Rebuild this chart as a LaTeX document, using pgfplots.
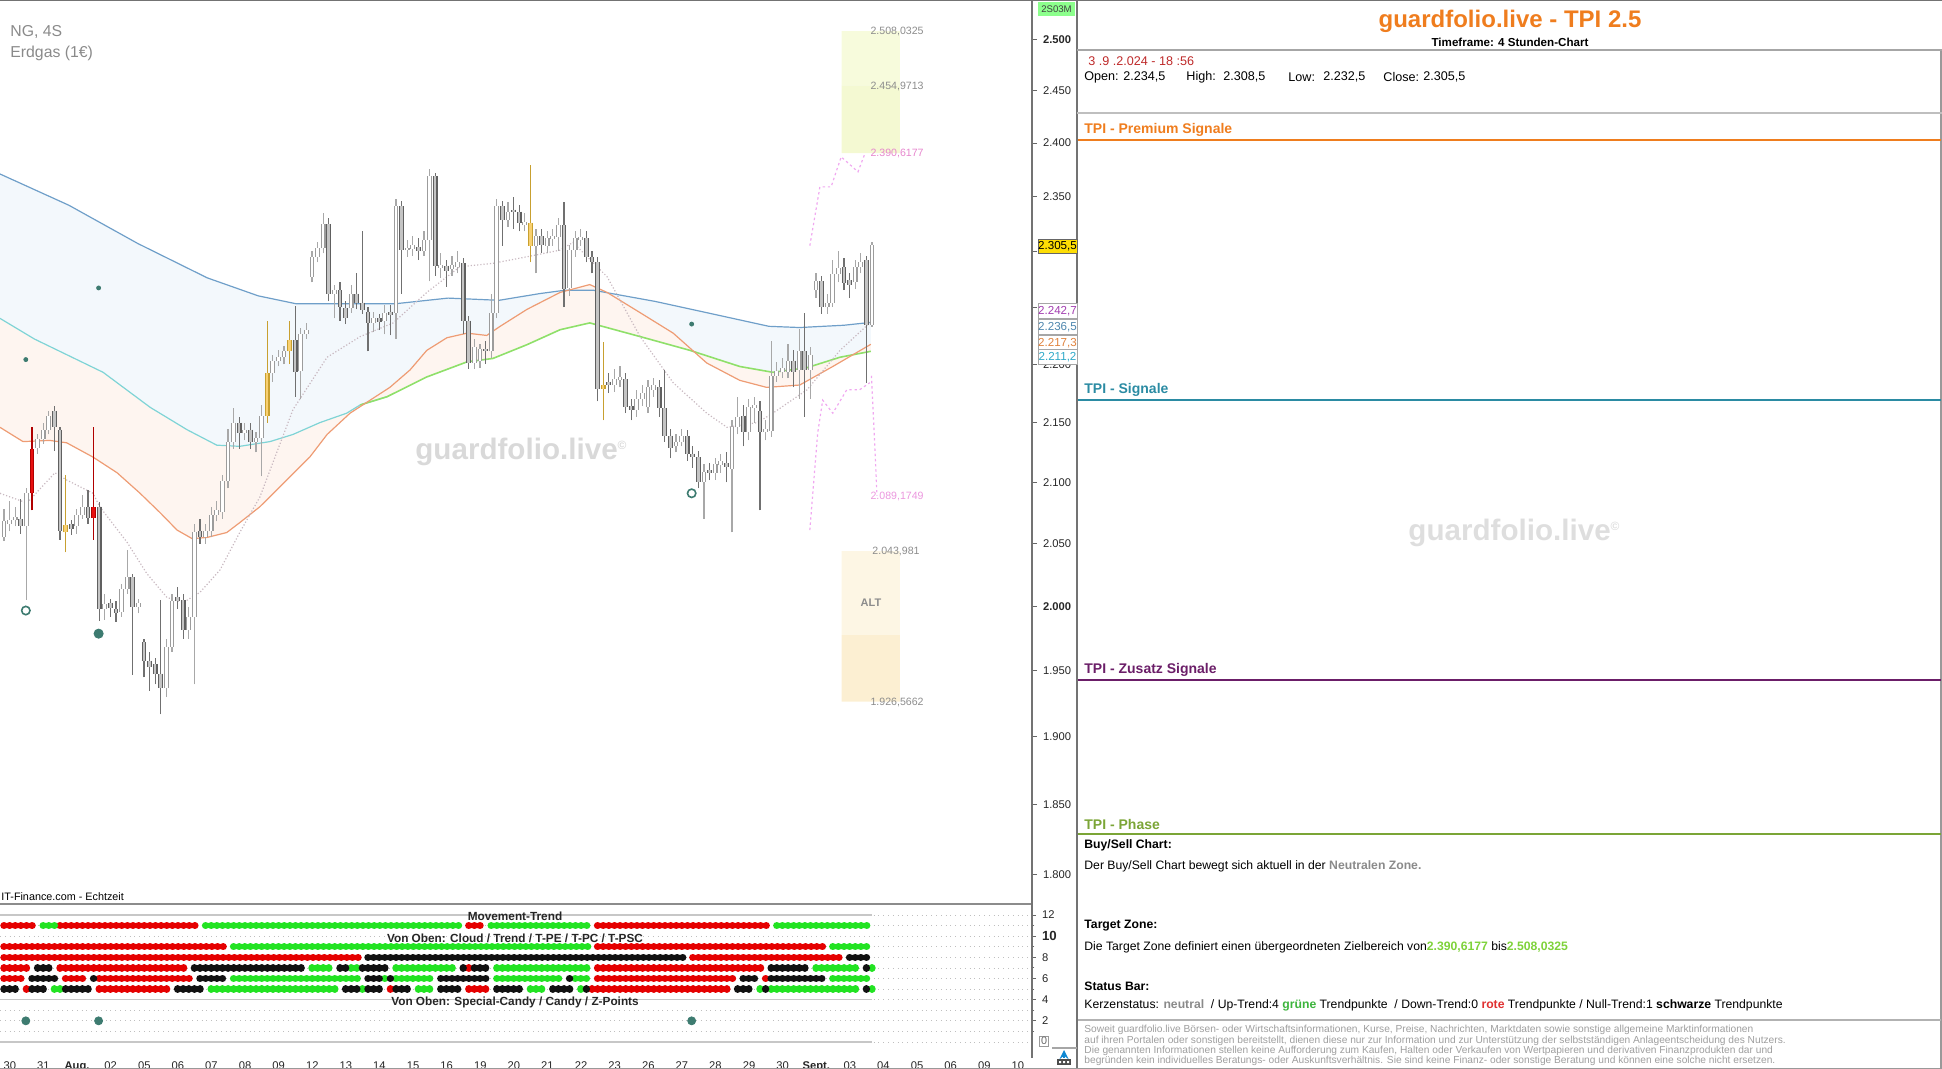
\documentclass[border=0pt]{standalone}
\usepackage{fontspec}
\setmainfont{Liberation Sans}
\usepackage{pgfplots}
\pgfplotsset{compat=1.18}
\usepackage{pgfplotstable}
\usepgfplotslibrary{fillbetween}

\definecolor{tpiorange}{HTML}{EF7D1E}
\definecolor{tpiteal}{HTML}{2B8BA3}
\definecolor{tpipurple}{HTML}{6B1E68}
\definecolor{tpigreen}{HTML}{7BA536}
\definecolor{zteal}{HTML}{3D7B70}
\definecolor{dotred}{HTML}{E50000}
\definecolor{dotgreen}{HTML}{22E322}
\definecolor{dotblack}{HTML}{111111}
\definecolor{cloudA}{HTML}{6F9FC9}
\definecolor{cloudB}{HTML}{7FD4D6}
\definecolor{cloudG}{HTML}{8FE06A}
\definecolor{cloudC}{HTML}{EE9C74}
\definecolor{fillAB}{HTML}{F3F8FC}
\definecolor{fillBC}{HTML}{FEF5F0}
\definecolor{wickW}{HTML}{A8A8A8}
\definecolor{bordW}{HTML}{9C9C9C}
\definecolor{wickG}{HTML}{707070}
\definecolor{bordG}{HTML}{606060}
\definecolor{fillG}{HTML}{C4C4C4}
\definecolor{wickY}{HTML}{C8A030}
\definecolor{fillY}{HTML}{F8D070}
\definecolor{wickR}{HTML}{B00000}
\definecolor{fillR}{HTML}{E81010}
\definecolor{pinkf}{HTML}{F0A8F0}
\definecolor{dotgray}{HTML}{C8B8C0}
\definecolor{zoneG}{HTML}{F7FBDC}
\definecolor{zoneG2}{HTML}{F4F9D2}
\definecolor{zoneA}{HTML}{FDF6E4}
\definecolor{zoneA2}{HTML}{FCEFD2}
\definecolor{txtgray}{HTML}{8A8A8A}
\definecolor{numgreen}{HTML}{7ED23A}
\definecolor{kgreen}{HTML}{3CB43C}
\definecolor{kred}{HTML}{E03030}

% candles: each one is two rows (n, low, open) and (n, high, close), then a break
% rising candles
\pgfplotstableread[row sep=\\]{
n a b\\
1 2.052 2.055\\ 1 2.078 2.068\\ nan nan nan\\
2 2.060 2.066\\ 2 2.085 2.069\\ nan nan nan\\
3 2.064 2.069\\ 3 2.080 2.072\\ nan nan nan\\
5 2.005 2.064\\ 5 2.095 2.091\\ nan nan nan\\
7 2.124 2.129\\ 7 2.140 2.136\\ nan nan nan\\
8 2.132 2.136\\ 8 2.150 2.144\\ nan nan nan\\
9 2.140 2.144\\ 9 2.160 2.156\\ nan nan nan\\
14 2.058 2.064\\ 14 2.078 2.073\\ nan nan nan\\
15 2.070 2.073\\ 15 2.090 2.080\\ nan nan nan\\
19 1.990 1.998\\ 19 2.010 2.002\\ nan nan nan\\
22 1.992 1.996\\ 22 2.018 2.014\\ nan nan nan\\
23 2.010 2.014\\ 23 2.045 2.023\\ nan nan nan\\
25 1.995 2.000\\ 25 2.006 2.003\\ nan nan nan\\
30 1.930 1.937\\ 30 1.975 1.969\\ nan nan nan\\
31 1.965 1.969\\ 31 2.010 2.004\\ nan nan nan\\
34 1.975 1.982\\ 34 2.000 1.992\\ nan nan nan\\
35 1.940 1.992\\ 35 2.066 2.059\\ nan nan nan\\
37 2.050 2.055\\ 37 2.066 2.060\\ nan nan nan\\
38 2.055 2.060\\ 38 2.080 2.073\\ nan nan nan\\
39 2.068 2.073\\ 39 2.085 2.077\\ nan nan nan\\
40 2.070 2.076\\ 40 2.106 2.101\\ nan nan nan\\
41 2.095 2.101\\ 41 2.145 2.134\\ nan nan nan\\
42 2.128 2.134\\ 42 2.162 2.150\\ nan nan nan\\
44 2.135 2.141\\ 44 2.150 2.144\\ nan nan nan\\
46 2.125 2.134\\ 46 2.142 2.137\\ nan nan nan\\
47 2.105 2.137\\ 47 2.165 2.156\\ nan nan nan\\
49 2.185 2.192\\ 49 2.208 2.203\\ nan nan nan\\
50 2.198 2.203\\ 50 2.212 2.206\\ nan nan nan\\
51 2.200 2.206\\ 51 2.216 2.211\\ nan nan nan\\
54 2.170 2.194\\ 54 2.232 2.226\\ nan nan nan\\
55 2.222 2.226\\ 55 2.236 2.230\\ nan nan nan\\
56 2.272 2.277\\ 56 2.300 2.295\\ nan nan nan\\
57 2.290 2.295\\ 57 2.308 2.303\\ nan nan nan\\
58 2.298 2.303\\ 58 2.335 2.325\\ nan nan nan\\
60 2.240 2.262\\ 60 2.270 2.265\\ nan nan nan\\
63 2.245 2.249\\ 63 2.270 2.262\\ nan nan nan\\
67 2.228 2.236\\ 67 2.246 2.240\\ nan nan nan\\
69 2.226 2.238\\ 69 2.252 2.245\\ nan nan nan\\
71 2.222 2.245\\ 71 2.348 2.341\\ nan nan nan\\
73 2.295 2.301\\ 73 2.310 2.303\\ nan nan nan\\
74 2.296 2.302\\ 74 2.314 2.306\\ nan nan nan\\
76 2.296 2.300\\ 76 2.318 2.310\\ nan nan nan\\
77 2.273 2.310\\ 77 2.376 2.369\\ nan nan nan\\
79 2.276 2.285\\ 79 2.298 2.288\\ nan nan nan\\
81 2.278 2.284\\ 81 2.296 2.288\\ nan nan nan\\
82 2.280 2.286\\ 82 2.300 2.290\\ nan nan nan\\
85 2.196 2.201\\ 85 2.222 2.215\\ nan nan nan\\
86 2.197 2.203\\ 86 2.218 2.213\\ nan nan nan\\
88 2.205 2.211\\ 88 2.262 2.245\\ nan nan nan\\
89 2.240 2.245\\ 89 2.348 2.341\\ nan nan nan\\
91 2.322 2.328\\ 91 2.345 2.336\\ nan nan nan\\
94 2.318 2.324\\ 94 2.335 2.327\\ nan nan nan\\
96 2.280 2.305\\ 96 2.320 2.314\\ nan nan nan\\
98 2.298 2.305\\ 98 2.318 2.312\\ nan nan nan\\
99 2.305 2.311\\ 99 2.320 2.314\\ nan nan nan\\
100 2.300 2.313\\ 100 2.330 2.324\\ nan nan nan\\
102 2.260 2.267\\ 102 2.306 2.301\\ nan nan nan\\
103 2.295 2.301\\ 103 2.318 2.312\\ nan nan nan\\
104 2.305 2.310\\ 104 2.320 2.313\\ nan nan nan\\
110 2.176 2.182\\ 110 2.196 2.187\\ nan nan nan\\
111 2.180 2.186\\ 111 2.198 2.189\\ nan nan nan\\
114 2.155 2.161\\ 114 2.178 2.170\\ nan nan nan\\
115 2.164 2.170\\ 115 2.182 2.175\\ nan nan nan\\
116 2.158 2.163\\ 116 2.186 2.180\\ nan nan nan\\
117 2.172 2.178\\ 117 2.188 2.182\\ nan nan nan\\
121 2.125 2.130\\ 121 2.140 2.134\\ nan nan nan\\
122 2.130 2.134\\ 122 2.145 2.139\\ nan nan nan\\
126 2.070 2.100\\ 126 2.115 2.109\\ nan nan nan\\
128 2.102 2.108\\ 128 2.120 2.115\\ nan nan nan\\
129 2.108 2.114\\ 129 2.124 2.118\\ nan nan nan\\
131 2.059 2.111\\ 131 2.152 2.146\\ nan nan nan\\
132 2.140 2.146\\ 132 2.172 2.155\\ nan nan nan\\
134 2.135 2.142\\ 134 2.170 2.163\\ nan nan nan\\
135 2.150 2.162\\ 135 2.172 2.165\\ nan nan nan\\
137 2.135 2.142\\ 137 2.152 2.145\\ nan nan nan\\
138 2.138 2.143\\ 138 2.220 2.190\\ nan nan nan\\
139 2.185 2.190\\ 139 2.202 2.194\\ nan nan nan\\
140 2.188 2.193\\ 140 2.205 2.197\\ nan nan nan\\
141 2.188 2.193\\ 141 2.218 2.203\\ nan nan nan\\
143 2.170 2.195\\ 143 2.231 2.211\\ nan nan nan\\
145 2.170 2.195\\ 145 2.215 2.208\\ nan nan nan\\
146 2.258 2.265\\ 146 2.280 2.273\\ nan nan nan\\
148 2.244 2.250\\ 148 2.262 2.254\\ nan nan nan\\
149 2.250 2.254\\ 149 2.292 2.279\\ nan nan nan\\
150 2.272 2.279\\ 150 2.300 2.285\\ nan nan nan\\
153 2.266 2.272\\ 153 2.292 2.286\\ nan nan nan\\
154 2.280 2.286\\ 154 2.298 2.290\\ nan nan nan\\
156 2.2325 2.2345\\ 156 2.3085 2.3055\\ nan nan nan\\
}\upc
% falling candles
\pgfplotstableread[row sep=\\]{
n a b\\
4 2.058 2.070\\ 4 2.086 2.064\\ nan nan nan\\
10 2.126 2.160\\ 10 2.164 2.146\\ nan nan nan\\
11 2.053 2.144\\ 11 2.146 2.060\\ nan nan nan\\
13 2.057 2.066\\ 13 2.069 2.062\\ nan nan nan\\
16 2.066 2.080\\ 16 2.094 2.071\\ nan nan nan\\
18 1.989 2.080\\ 18 2.084 1.998\\ nan nan nan\\
20 1.992 2.003\\ 20 2.006 1.999\\ nan nan nan\\
21 1.988 1.998\\ 21 2.004 1.995\\ nan nan nan\\
24 1.947 2.023\\ 24 2.026 2.000\\ nan nan nan\\
26 1.945 1.972\\ 26 1.975 1.958\\ nan nan nan\\
27 1.935 1.958\\ 27 1.965 1.953\\ nan nan nan\\
28 1.940 1.955\\ 28 1.960 1.948\\ nan nan nan\\
29 1.917 1.948\\ 29 2.005 1.937\\ nan nan nan\\
32 1.998 2.007\\ 32 2.015 2.004\\ nan nan nan\\
33 1.975 2.005\\ 33 2.010 1.982\\ nan nan nan\\
36 2.050 2.060\\ 36 2.070 2.055\\ nan nan nan\\
43 2.128 2.150\\ 43 2.155 2.141\\ nan nan nan\\
45 2.128 2.144\\ 45 2.150 2.134\\ nan nan nan\\
53 2.172 2.221\\ 53 2.251 2.193\\ nan nan nan\\
59 2.255 2.325\\ 59 2.330 2.262\\ nan nan nan\\
61 2.238 2.265\\ 61 2.272 2.250\\ nan nan nan\\
62 2.235 2.249\\ 62 2.255 2.240\\ nan nan nan\\
64 2.248 2.262\\ 64 2.280 2.254\\ nan nan nan\\
65 2.244 2.254\\ 65 2.318 2.247\\ nan nan nan\\
66 2.211 2.246\\ 66 2.250 2.236\\ nan nan nan\\
68 2.230 2.240\\ 68 2.244 2.237\\ nan nan nan\\
70 2.225 2.246\\ 70 2.252 2.243\\ nan nan nan\\
72 2.262 2.341\\ 72 2.346 2.301\\ nan nan nan\\
75 2.292 2.304\\ 75 2.312 2.300\\ nan nan nan\\
78 2.278 2.369\\ 78 2.372 2.287\\ nan nan nan\\
80 2.268 2.287\\ 80 2.292 2.282\\ nan nan nan\\
83 2.226 2.289\\ 83 2.294 2.238\\ nan nan nan\\
84 2.196 2.238\\ 84 2.242 2.201\\ nan nan nan\\
87 2.200 2.213\\ 87 2.220 2.211\\ nan nan nan\\
90 2.305 2.341\\ 90 2.346 2.328\\ nan nan nan\\
92 2.320 2.338\\ 92 2.350 2.336\\ nan nan nan\\
93 2.318 2.336\\ 93 2.342 2.326\\ nan nan nan\\
97 2.298 2.314\\ 97 2.320 2.306\\ nan nan nan\\
101 2.250 2.324\\ 101 2.345 2.266\\ nan nan nan\\
105 2.290 2.312\\ 105 2.318 2.295\\ nan nan nan\\
106 2.280 2.295\\ 106 2.300 2.290\\ nan nan nan\\
107 2.168 2.290\\ 107 2.295 2.179\\ nan nan nan\\
109 2.175 2.185\\ 109 2.192 2.182\\ nan nan nan\\
112 2.158 2.187\\ 112 2.192 2.163\\ nan nan nan\\
113 2.152 2.164\\ 113 2.170 2.161\\ nan nan nan\\
118 2.155 2.180\\ 118 2.186 2.162\\ nan nan nan\\
119 2.134 2.162\\ 119 2.195 2.139\\ nan nan nan\\
120 2.120 2.139\\ 120 2.145 2.129\\ nan nan nan\\
123 2.118 2.139\\ 123 2.144 2.124\\ nan nan nan\\
124 2.112 2.124\\ 124 2.130 2.121\\ nan nan nan\\
125 2.095 2.121\\ 125 2.126 2.100\\ nan nan nan\\
127 2.102 2.110\\ 127 2.116 2.108\\ nan nan nan\\
130 2.100 2.116\\ 130 2.125 2.113\\ nan nan nan\\
133 2.130 2.156\\ 133 2.165 2.142\\ nan nan nan\\
136 2.077 2.160\\ 136 2.168 2.142\\ nan nan nan\\
142 2.180 2.203\\ 142 2.212 2.193\\ nan nan nan\\
144 2.155 2.211\\ 144 2.245 2.195\\ nan nan nan\\
147 2.244 2.273\\ 147 2.278 2.250\\ nan nan nan\\
151 2.265 2.286\\ 151 2.294 2.271\\ nan nan nan\\
152 2.258 2.274\\ 152 2.280 2.270\\ nan nan nan\\
155 2.184 2.292\\ 155 2.296 2.234\\ nan nan nan\\
}\downc
% special candles (yellow)
\pgfplotstableread[row sep=\\]{
n a b\\
12 2.043 2.059\\ 12 2.106 2.065\\ nan nan nan\\
48 2.150 2.156\\ 48 2.238 2.192\\ nan nan nan\\
52 2.200 2.211\\ 52 2.238 2.221\\ nan nan nan\\
95 2.290 2.326\\ 95 2.379 2.305\\ nan nan nan\\
108 2.152 2.179\\ 108 2.219 2.182\\ nan nan nan\\
}\yelc
% special candles (red)
\pgfplotstableread[row sep=\\]{
n a b\\
6 2.077 2.091\\ 6 2.146 2.128\\ nan nan nan\\
17 2.053 2.071\\ 17 2.146 2.080\\ nan nan nan\\
}\redc

% status rows: first and last candle of each run, row number
\pgfplotstableread[row sep=\\]{
x y\\
1 11\\ 7.01 11\\ nan nan\\
11 11\\ 36.01 11\\ nan nan\\
84 11\\ 87.01 11\\ nan nan\\
107 11\\ 138.01 11\\ nan nan\\
1 9\\ 41.01 9\\ nan nan\\
107 9\\ 148.01 9\\ nan nan\\
1 8\\ 65.01 8\\ nan nan\\
124 8\\ 151.01 8\\ nan nan\\
1 7\\ 6.01 7\\ nan nan\\
11 7\\ 34.01 7\\ nan nan\\
84 7\\ 84.01 7\\ nan nan\\
107 7\\ 137.01 7\\ nan nan\\
1 6\\ 5.01 6\\ nan nan\\
12 6\\ 16.01 6\\ nan nan\\
18 6\\ 35.01 6\\ nan nan\\
107 6\\ 132.01 6\\ nan nan\\
137 6\\ 137.01 6\\ nan nan\\
5 5\\ 5.01 5\\ nan nan\\
18 5\\ 31.01 5\\ nan nan\\
70 5\\ 70.01 5\\ nan nan\\
84 5\\ 88.01 5\\ nan nan\\
106 5\\ 131.01 5\\ nan nan\\
}\rowsred
\pgfplotstableread[row sep=\\]{
x y\\
8 11\\ 10.01 11\\ nan nan\\
37 11\\ 83.01 11\\ nan nan\\
88 11\\ 106.01 11\\ nan nan\\
139 11\\ 156.01 11\\ nan nan\\
42 9\\ 106.01 9\\ nan nan\\
149 9\\ 156.01 9\\ nan nan\\
56 7\\ 60.01 7\\ nan nan\\
63 7\\ 64.01 7\\ nan nan\\
71 7\\ 82.01 7\\ nan nan\\
89 7\\ 106.01 7\\ nan nan\\
146 7\\ 154.01 7\\ nan nan\\
156 7\\ 156.01 7\\ nan nan\\
42 6\\ 65.01 6\\ nan nan\\
69 6\\ 69.01 6\\ nan nan\\
71 6\\ 78.01 6\\ nan nan\\
89 6\\ 101.01 6\\ nan nan\\
103 6\\ 106.01 6\\ nan nan\\
149 6\\ 156.01 6\\ nan nan\\
10 5\\ 11.01 5\\ nan nan\\
38 5\\ 61.01 5\\ nan nan\\
65 5\\ 65.01 5\\ nan nan\\
75 5\\ 78.01 5\\ nan nan\\
95 5\\ 98.01 5\\ nan nan\\
104 5\\ 104.01 5\\ nan nan\\
136 5\\ 136.01 5\\ nan nan\\
138 5\\ 154.01 5\\ nan nan\\
156 5\\ 156.01 5\\ nan nan\\
}\rowsgreen
\pgfplotstableread[row sep=\\]{
x y\\
66 8\\ 123.01 8\\ nan nan\\
152 8\\ 156.01 8\\ nan nan\\
7 7\\ 10.01 7\\ nan nan\\
35 7\\ 55.01 7\\ nan nan\\
61 7\\ 62.01 7\\ nan nan\\
65 7\\ 70.01 7\\ nan nan\\
83 7\\ 83.01 7\\ nan nan\\
85 7\\ 88.01 7\\ nan nan\\
138 7\\ 145.01 7\\ nan nan\\
155 7\\ 155.01 7\\ nan nan\\
6 6\\ 11.01 6\\ nan nan\\
17 6\\ 17.01 6\\ nan nan\\
36 6\\ 41.01 6\\ nan nan\\
66 6\\ 68.01 6\\ nan nan\\
70 6\\ 70.01 6\\ nan nan\\
79 6\\ 88.01 6\\ nan nan\\
102 6\\ 102.01 6\\ nan nan\\
133 6\\ 136.01 6\\ nan nan\\
138 6\\ 148.01 6\\ nan nan\\
1 5\\ 4.01 5\\ nan nan\\
6 5\\ 9.01 5\\ nan nan\\
12 5\\ 17.01 5\\ nan nan\\
32 5\\ 37.01 5\\ nan nan\\
62 5\\ 64.01 5\\ nan nan\\
66 5\\ 69.01 5\\ nan nan\\
71 5\\ 74.01 5\\ nan nan\\
79 5\\ 83.01 5\\ nan nan\\
89 5\\ 94.01 5\\ nan nan\\
99 5\\ 103.01 5\\ nan nan\\
105 5\\ 105.01 5\\ nan nan\\
132 5\\ 135.01 5\\ nan nan\\
137 5\\ 137.01 5\\ nan nan\\
155 5\\ 155.01 5\\ nan nan\\
}\rowsblack

\pgfplotsset{
  dotrow/.style={#1, line width=3.7pt, line cap=round, forget plot,
    unbounded coords=jump, dash pattern=on 0.01pt off 2.8pt},
}
% wick, border and fill of one candle table
\newcommand\candleset[4]{%
  \addplot[#2, line width=0.55pt, unbounded coords=jump, forget plot] table[x=n, y=a] {#1};
  \addplot[#3, line width=2.4pt, unbounded coords=jump, forget plot] table[x=n, y=b] {#1};
  \addplot[#4, line width=1.3pt, unbounded coords=jump, forget plot] table[x=n, y=b] {#1};}
\newcommand\fs[1]{\fontsize{#1}{#1}\selectfont}

\begin{document}
\begin{tikzpicture}[x=0.5pt, y=-0.5pt, lbl/.style={anchor=west, inner sep=0pt}]

% watermarks
\node[lbl, text=black!15, font=\fs{14.8}\bfseries] at (415,452) {guardfolio.live\textsuperscript{\fs{6}©}};
\node[lbl, text=black!13, font=\fs{14.8}\bfseries] at (1408,533) {guardfolio.live\textsuperscript{\fs{6}©}};

% price panel
\begin{axis}[at={(0pt,-452pt)}, anchor=south west, scale only axis,
  width=516pt, height=452pt,
  xmin=0.29, xmax=184.5757,
  ymode=log, ymin=1.779, ymax=2.539,
  axis x line=none, axis y line*=right,
  y axis line style={draw=black!55, line width=0.7pt},
  ytick={1.8,1.85,1.9,1.95,2.0,2.05,2.1,2.15,2.2,2.25,2.3,2.35,2.4,2.45,2.5},
  yticklabels={1.800,1.850,1.900,1.950,\textbf{2.000},2.050,2.100,2.150,2.200,{},{},2.350,2.400,2.450,\textbf{2.500}},
  yminorticks=false, tick align=outside, major tick length=2.5pt,
  ytick style={draw=black!60, line width=0.5pt},
  yticklabel style={font=\fs{5.6}, text=black!85, xshift=-0.5pt},
  clip=true]

% cloud boundaries
\addplot[name path=A, cloudA, line width=0.6pt] coordinates {
  (0.29,2.371) (12.6,2.342) (24.9,2.307) (37.3,2.276) (46.4,2.260) (53.1,2.253)
  (61.7,2.253) (71.0,2.253) (80.3,2.258) (89.4,2.256) (96.7,2.262) (101.2,2.265)
  (106.2,2.265) (117.3,2.255) (126.5,2.245) (137.6,2.233) (143.1,2.232) (151.0,2.234) (155.8,2.2365)};
\addplot[name path=B, draw=none] coordinates {
  (0.29,2.240) (6.4,2.222) (18.7,2.193) (27.1,2.163) (33.7,2.144) (39.0,2.131)
  (43.1,2.130) (48.5,2.134) (52.6,2.140) (57.4,2.150) (62.2,2.158) (64.6,2.165)
  (69.4,2.172) (76.5,2.189) (83.7,2.202) (88.3,2.205) (94.4,2.217) (100.3,2.230)
  (105.6,2.236) (114.6,2.224) (123.5,2.212) (132.4,2.198) (138.3,2.193) (144.4,2.197)
  (150.3,2.206) (155.8,2.2112)};
\addplot[name path=C, draw=none] coordinates {
  (0.29,2.146) (4.4,2.134) (9.2,2.135) (12.2,2.133) (16.9,2.121) (21.2,2.108)
  (25.3,2.091) (28.9,2.075) (31.9,2.061) (34.6,2.054) (37.3,2.055) (40.8,2.059)
  (43.1,2.067) (46.7,2.080) (51.5,2.102) (55.6,2.121) (58.7,2.140) (62.8,2.158)
  (69.9,2.180) (73.5,2.195) (76.5,2.212) (80.1,2.223) (83.7,2.227) (87.2,2.225)
  (89.6,2.233) (94.4,2.248) (100.3,2.263) (105.6,2.270) (108.7,2.263) (114.6,2.245)
  (120.5,2.227) (126.5,2.201) (132.4,2.186) (137.2,2.180) (143.1,2.182) (149.0,2.198) (155.8,2.2173)};
\addplot[fillAB] fill between[of=A and B];
\addplot[fillBC] fill between[of=B and C];
\addplot[cloudB, line width=0.6pt] coordinates {
  (0.29,2.240) (6.4,2.222) (18.7,2.193) (27.1,2.163) (33.7,2.144) (39.0,2.131)
  (43.1,2.130) (48.5,2.134) (52.6,2.140) (57.4,2.150) (62.2,2.158) (64.6,2.165) (69.4,2.172)};
\addplot[cloudG, line width=0.8pt] coordinates {
  (64.6,2.165) (69.4,2.172) (76.5,2.189) (83.7,2.202) (88.3,2.205) (94.4,2.217) (100.3,2.230)
  (105.6,2.236) (114.6,2.224) (123.5,2.212) (132.4,2.198) (138.3,2.193) (144.4,2.197)
  (150.3,2.206) (155.8,2.2112)};
\addplot[cloudC, line width=0.6pt] coordinates {
  (0.29,2.146) (4.4,2.134) (9.2,2.135) (12.2,2.133) (16.9,2.121) (21.2,2.108)
  (25.3,2.091) (28.9,2.075) (31.9,2.061) (34.6,2.054) (37.3,2.055) (40.8,2.059)
  (43.1,2.067) (46.7,2.080) (51.5,2.102) (55.6,2.121) (58.7,2.140) (62.8,2.158)
  (69.9,2.180) (73.5,2.195) (76.5,2.212) (80.1,2.223) (83.7,2.227) (87.2,2.225)
  (89.6,2.233) (94.4,2.248) (100.3,2.263) (105.6,2.270) (108.7,2.263) (114.6,2.245)
  (120.5,2.227) (126.5,2.201) (132.4,2.186) (137.2,2.180) (143.1,2.182) (149.0,2.198) (155.8,2.2173)};

% dotted average
\addplot[dotgray, line width=0.6pt, densely dotted] coordinates {
  (0.29,2.091) (5.1,2.083) (10.1,2.108) (12.2,2.102) (16.9,2.091) (18.1,2.080)
  (23.0,2.051) (26.5,2.026) (30.1,2.007) (33.0,2.003) (36.0,2.011) (39.6,2.029)
  (43.1,2.059) (46.7,2.088) (52.6,2.161) (58.7,2.206) (64.6,2.224) (70.5,2.236)
  (76.5,2.263) (82.4,2.286) (88.3,2.289) (94.4,2.295) (100.3,2.301) (102.6,2.308)
  (108.7,2.277) (114.6,2.224) (120.5,2.184) (126.5,2.158) (130.1,2.146) (135.5,2.150)
  (138.3,2.158) (144.4,2.178) (150.3,2.212) (155.6,2.236)};

% target zones
\addplot[fill=zoneG, draw=none] coordinates {(150.6,2.4549713) (161,2.4549713) (161,2.5080325) (150.6,2.5080325) (150.6,2.4549713)};
\addplot[fill=zoneG2, draw=none] coordinates {(150.6,2.3906177) (161,2.3906177) (161,2.4549713) (150.6,2.4549713) (150.6,2.3906177)};
\addplot[fill=zoneA, draw=none] coordinates {(150.6,1.978) (161,1.978) (161,2.043981) (150.6,2.043981) (150.6,1.978)};
\addplot[fill=zoneA2, draw=none] coordinates {(150.6,1.9265662) (161,1.9265662) (161,1.978) (150.6,1.978) (150.6,1.9265662)};

% forecast paths
\addplot[pinkf, line width=0.6pt, dash pattern=on 1.2pt off 1.4pt] coordinates {
  (144.9,2.305) (146.7,2.359) (148.7,2.359) (150.5,2.387) (153.5,2.373) (154.8,2.391)};
\addplot[pinkf, line width=0.6pt, dash pattern=on 1.2pt off 1.4pt] coordinates {
  (144.9,2.061) (146.3,2.141) (147.2,2.169) (149.0,2.158) (151.5,2.178) (153.8,2.178) (155.6,2.184)};
\addplot[pinkf, line width=0.6pt, dash pattern=on 1.2pt off 1.4pt] coordinates {
  (155.9,2.190) (156.4,2.140) (156.9,2.089)};

% candles
\candleset{\upc}{wickW}{bordW}{white}
\candleset{\downc}{wickG}{bordG}{fillG}
\candleset{\yelc}{wickY}{wickY}{fillY}
\candleset{\redc}{wickR}{wickR}{fillR}

% z-points
\addplot[only marks, mark=*, mark size=1pt, zteal] coordinates {(4.9,2.204) (17.9,2.267) (123.8,2.235)};
\addplot[only marks, mark=o, mark size=2.1pt, line width=0.8pt, zteal] coordinates {(4.9,1.997) (123.8,2.091)};
\addplot[only marks, mark=*, mark size=2.3pt, zteal] coordinates {(17.9,1.979)};
\end{axis}

% indicator panel
\foreach \v in {0,...,12} {\draw[black!25, line width=0.4pt, dotted] (0,1042-10.58*\v) -- (1032,1042-10.58*\v);}
\draw[black!22, line width=0.6pt] (0,915) -- (872,915);
\draw[black!22, line width=0.6pt] (0,999.7) -- (872,999.7);
\draw[black!22, line width=0.6pt] (0,1042) -- (872,1042);
\begin{axis}[at={(0pt,-523pt)}, anchor=south west, scale only axis,
  width=516pt, height=70pt,
  xmin=0.29, xmax=184.5757, ymin=-0.378, ymax=12.85,
  axis x line*=bottom, axis y line*=right,
  x axis line style={draw=none}, y axis line style={draw=none},
  xtick={2.05,8.05,14.05,20.05,26.05,32.05,38.05,44.05,50.05,56.05,62.05,68.05,74.05,80.05,86.05,92.05,98.05,104.05,110.05,116.05,122.05,128.05,134.05,140.05,146.05,152.05,158.05,164.05,170.05,176.05,182.05},
  xticklabels={30,31,\textbf{Aug.},02,05,06,07,08,09,12,13,14,15,16,19,20,21,22,23,26,27,28,29,30,\textbf{Sept.},03,04,05,06,09,10},
  xtick style={draw=none},
  xticklabel style={font=\fs{5.6}, text=black!85, yshift=-2.5pt},
  ytick={2,4,6,8,10,12}, yticklabels={2,4,6,8,{\fs{6.6}\bfseries 10},12},
  minor ytick={1,3,5,7,9,11},
  tick align=outside, major tick length=2pt, minor tick length=1.2pt,
  ytick style={draw=black!60, line width=0.5pt},
  yticklabel style={font=\fs{5.6}, text=black!85, xshift=-0.5pt},
  clip=false]
\addplot[dotrow=dotred] table[x=x, y=y] {\rowsred};
\addplot[dotrow=dotgreen] table[x=x, y=y] {\rowsgreen};
\addplot[dotrow=dotblack] table[x=x, y=y] {\rowsblack};
\addplot[only marks, mark=*, mark size=2pt, zteal] coordinates {(4.9,2) (17.9,2) (123.8,2)};
\end{axis}

\node[font=\fs{5.9}\bfseries, text=black!85, inner sep=0pt] at (515,916) {Movement-Trend};
\node[font=\fs{5.9}\bfseries, text=black!85, inner sep=0pt] at (515,938) {Von Oben: Cloud / Trend / T-PE / T-PC / T-PSC};
\node[font=\fs{5.9}\bfseries, text=black!85, inner sep=0pt] at (515,1002) {Von Oben: Special-Candy / Candy / Z-Points};
\node[draw=black!40, inner sep=0.6pt, font=\fs{5.4}, text=black!60] at (1044,1041) {0};

% frame lines
\draw[black!55, line width=0.8pt] (0,0.6) -- (1942,0.6);
\draw[black!45, line width=0.6pt] (0,904) -- (1032,904);
\draw[black!55, line width=0.7pt] (1032,0) -- (1032,1058);
\draw[black!55, line width=1pt] (1077,0) -- (1077,1069);
\draw[black!40, line width=0.8pt] (1941,50) -- (1941,1069);
\draw[black!40, line width=0.8pt] (0,1068.4) -- (1942,1068.4);
\draw[black!35, line width=0.6pt] (1052,1048) -- (1077,1048);
\fill[black!70] (1057,1059) rectangle (1071,1065);
\fill[white] (1059,1061) rectangle (1061,1063) (1063,1061) rectangle (1065,1063) (1067,1061) rectangle (1069,1063);
\draw[cyan!70!blue, line width=1pt, -stealth] (1064,1058) -- (1064,1050);

% top-left texts
\node[lbl, text=txtgray, font=\fs{7.9}] at (10,32) {NG, 4S};
\node[lbl, text=txtgray, font=\fs{7.9}] at (10,53) {Erdgas (1€)};
\node[lbl, font=\fs{5.4}] at (1,897) {IT-Finance.com - Echtzeit};

% target zone labels
\node[anchor=east, inner sep=0pt, text=black!45, font=\fs{5.3}] at (924,31.5) {2.508,0325};
\node[anchor=east, inner sep=0pt, text=black!45, font=\fs{5.3}] at (924,86) {2.454,9713};
\node[anchor=east, inner sep=0pt, text=pinkf!80!purple, font=\fs{5.3}] at (924,153) {2.390,6177};
\node[anchor=east, inner sep=0pt, text=pinkf!90!purple, font=\fs{5.3}] at (924,496) {2.089,1749};
\node[anchor=east, inner sep=0pt, text=black!45, font=\fs{5.3}] at (920,551) {2.043,981};
\node[anchor=east, inner sep=0pt, text=black!45, font=\fs{5.3}] at (924,702) {1.926,5662};
\node[inner sep=0pt, text=black!45, font=\fs{5.5}\bfseries] at (871,603) {ALT};

% axis badges
\node[fill=green!45!white, inner sep=0pt, minimum width=18.5pt, minimum height=7pt, font=\fs{4.8}, text=black!75] at (1056.5,9) {2S03M};
\node[draw=black!60, fill=yellow!80!orange, inner sep=0pt, minimum width=19.5pt, minimum height=7pt, font=\fs{5.8}] at (1057.5,246) {2.305,5};
\node[draw=black!35, fill=white, inner sep=0pt, minimum width=19.5pt, minimum height=7.5pt, font=\fs{5.8}, text={rgb,255:red,162;green,61;blue,176}] at (1057.5,311) {2.242,7};
\node[draw=black!35, fill=white, inner sep=0pt, minimum width=19.5pt, minimum height=7.5pt, font=\fs{5.8}, text={rgb,255:red,77;green,134;blue,174}] at (1057.5,327) {2.236,5};
\node[draw=black!35, fill=white, inner sep=0pt, minimum width=19.5pt, minimum height=7.5pt, font=\fs{5.8}, text={rgb,255:red,224;green,130;blue,60}] at (1057.5,343) {2.217,3};
\node[draw=black!35, fill=white, inner sep=0pt, minimum width=19.5pt, minimum height=7.5pt, font=\fs{5.8}, text={rgb,255:red,45;green,169;blue,201}] at (1057.5,357) {2.211,2};

% right panel
\node[text=tpiorange, font=\fs{12}\bfseries, inner sep=0pt] at (1510,21) {guardfolio.live - TPI 2.5};
\node[font=\fs{5.8}\bfseries, inner sep=0pt] at (1510,42) {Timeframe: 4 Stunden-Chart};
\draw[black!35, line width=0.8pt] (1077,50) -- (1942,50);
\draw[black!25, line width=0.8pt] (1077,113) -- (1942,113);
\node[lbl, text=kred!85!black, font=\fs{6.3}] at (1088,61) {3 .9 .2.024 - 18 :56};
\node[lbl, font=\fs{6.3}] at (1084,77) {Open:};
\node[lbl, font=\fs{6.3}] at (1123,77) {2.234,5};
\node[lbl, font=\fs{6.3}] at (1186,77) {High:};
\node[lbl, font=\fs{6.3}] at (1223,77) {2.308,5};
\node[lbl, font=\fs{6.3}] at (1288,77) {Low:};
\node[lbl, font=\fs{6.3}] at (1323,77) {2.232,5};
\node[lbl, font=\fs{6.3}] at (1383,77) {Close:};
\node[lbl, font=\fs{6.3}] at (1423,77) {2.305,5};

\node[lbl, text=tpiorange, font=\fs{7}\bfseries] at (1084,130) {TPI - Premium Signale};
\draw[tpiorange, line width=1pt] (1078,140) -- (1941,140);
\node[lbl, text=tpiteal, font=\fs{7}\bfseries] at (1084,390) {TPI - Signale};
\draw[tpiteal, line width=1pt] (1078,400) -- (1941,400);
\node[lbl, text=tpipurple, font=\fs{7}\bfseries] at (1084,670) {TPI - Zusatz Signale};
\draw[tpipurple, line width=1pt] (1078,680) -- (1941,680);
\node[lbl, text=tpigreen, font=\fs{7}\bfseries] at (1084,824) {TPI - Phase};
\draw[tpigreen, line width=1pt] (1078,834) -- (1941,834);

\node[lbl, font=\fs{6.1}\bfseries] at (1084,845) {Buy/Sell Chart:};
\node[lbl, font=\fs{6.1}] at (1084,866) {Der Buy/Sell Chart bewegt sich aktuell in der \textcolor{txtgray}{\bfseries Neutralen Zone.}};
\node[lbl, font=\fs{6.1}\bfseries] at (1084,926) {Target Zone:};
\node[lbl, font=\fs{6.1}] at (1084,947) {Die Target Zone definiert einen übergeordneten Zielbereich von\textcolor{numgreen}{\bfseries 2.390,6177} bis\textcolor{numgreen}{\bfseries 2.508,0325}};
\node[lbl, font=\fs{6.1}\bfseries] at (1084,986) {Status Bar:};
\node[lbl, font=\fs{6.1}] at (1084,1005) {Kerzenstatus: \textcolor{txtgray}{\bfseries neutral} \ / Up-Trend:4 \textcolor{kgreen}{\bfseries grüne} Trendpunkte \ / Down-Trend:0 \textcolor{kred}{\bfseries rote} Trendpunkte / Null-Trend:1 {\bfseries schwarze} Trendpunkte};
\draw[black!30, line width=0.7pt] (1078,1020) -- (1941,1020);
\node[lbl, text=black!38, font=\fs{5.1}] at (1084,1030) {Soweit guardfolio.live Börsen- oder Wirtschaftsinformationen, Kurse, Preise, Nachrichten, Marktdaten sowie sonstige allgemeine Marktinformationen};
\node[lbl, text=black!38, font=\fs{5.1}] at (1084,1040.5) {auf ihren Portalen oder sonstigen bereitstellt, dienen diese nur zur Information und zur Unterstützung der selbstständigen Anlageentscheidung des Nutzers.};
\node[lbl, text=black!38, font=\fs{5.1}] at (1084,1050.5) {Die genannten Informationen stellen keine Aufforderung zum Kaufen, Halten oder Verkaufen von Wertpapieren und derivativen Finanzprodukten dar und};
\node[lbl, text=black!38, font=\fs{5.1}] at (1084,1060.5) {begründen kein individuelles Beratungs- oder Auskunftsverhältnis. Sie sind keine Finanz- oder sonstige Beratung und können eine solche nicht ersetzen.};

% page frame
\pgfresetboundingbox
\path (0,0) rectangle (1942,1069);
\end{tikzpicture}
\end{document}
